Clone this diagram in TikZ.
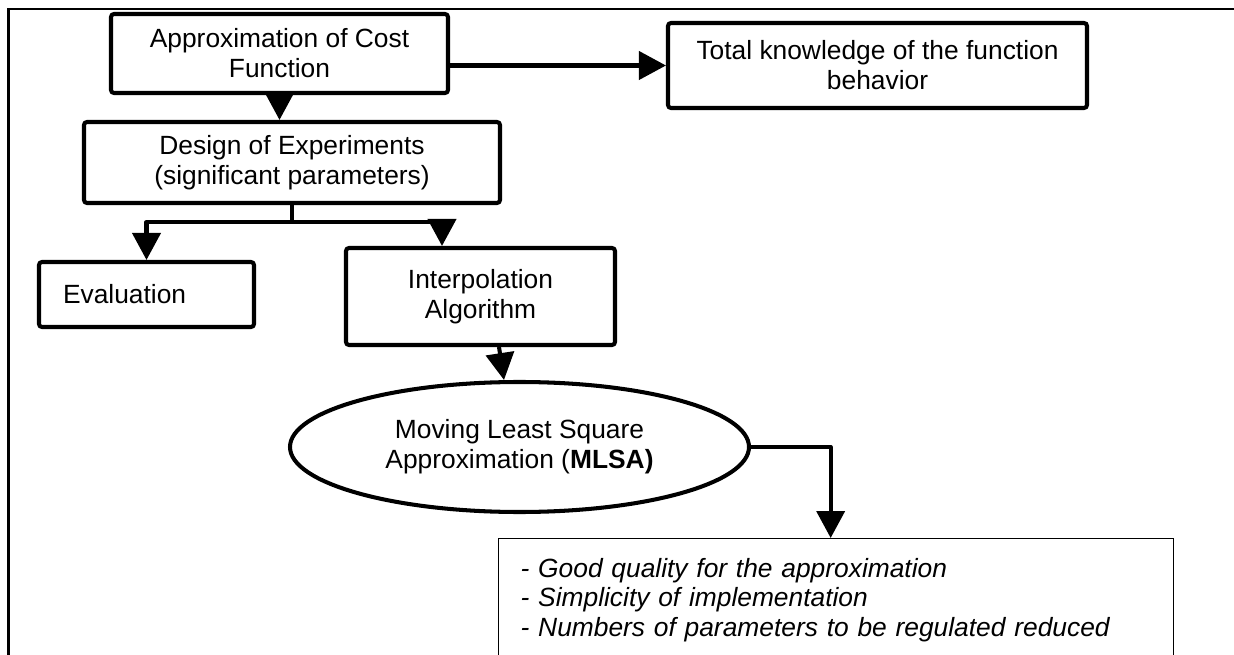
\documentclass[tikz,border=0pt]{standalone}
\usepackage{fontspec}
\setmainfont{Liberation Sans}
\usetikzlibrary{positioning}
\usetikzlibrary{calc}
\usetikzlibrary{shapes.geometric}
\usetikzlibrary{arrows.meta}
\tikzset{
    % Big solid heads, as in the original flow chart
    >={Triangle[length=5.4mm, width=5.6mm]},
%
    % Heavy outlined step of the chart
    flow box/.style={draw, line width=2.3pt, rounded corners=0.6mm,
        align=center, inner sep=0pt},
%
    % The same step, but round
    flow ellipse/.style={draw, line width=2.3pt, ellipse, align=center,
        inner sep=0pt},
%
    % Plain thin box for the closing notes
    note box/.style={draw, line width=0.75pt, align=left},
%
    % Heavy connector between two steps
    flow line/.style={->, line width=2.3pt, line join=round},
%
    % Border round the whole figure
    frame line/.style={line width=1.3pt}}

\begin{document}
\begin{tikzpicture}[x=0.2mm, y=-0.2mm]
\fontsize{15}{17}\selectfont

% Page of the figure, its frame cut by the page edge
\useasboundingbox (0,0) rectangle (1234,655);
\clip (0,0) rectangle (1234,655);
\draw [frame line] (8.5,680) |- (1260,9.3);

% Cost function and what it gives
\node [flow box, minimum width=67.4mm, minimum height=15.8mm]
    (approx) at (279.5,53.5) {Approximation of Cost\\Function};
\node [flow box, minimum width=83.8mm, minimum height=17mm]
    (knowledge) at (877.5,65.5) {Total knowledge of the function\\behavior};
\draw [flow line] (approx.east |- knowledge.west) -- (knowledge.west);

% Design of experiments, then its two branches
\node [flow box, minimum width=83.2mm, minimum height=16.2mm]
    (design) at (292,162.5) {Design of Experiments\\(significant parameters)};
\draw [flow line] (approx.south) -- (approx.south |- design.north);

\node [flow box, minimum width=43mm, minimum height=13mm,
    text width=33.4mm, align=left]
    (eval) at (146.5,294.5) {Evaluation};
\node [flow box, minimum width=53.8mm, minimum height=19.4mm]
    (interp) at (480.5,296.5) {Interpolation\\Algorithm};
\coordinate (fork) at ($(design.south)+(0,17)$);
\draw [flow line] (design.south) -- (fork) -| (eval.north);
\draw [flow line] (fork) -| ([xshift=-7.7mm]interp.north);

% Moving least squares and its merits
\node [flow ellipse, minimum width=91.8mm, minimum height=26mm]
    (mlsa) at (519.5,447) {Moving Least Square\\Approximation (\textbf{MLSA)}};
\draw [flow line] ([xshift=3.7mm]interp.south) -- ([xshift=-3.1mm]mlsa.north);

\node [note box, anchor=north west, text width=126.2mm, inner xsep=4.4mm,
    inner ysep=3.86mm, text depth=24mm, font=\itshape]
    (gains) at (498,538) {- Good quality for the approximation\\
        - Simplicity of implementation\\
        - Numbers of parameters to be regulated reduced};
\draw [flow line] (mlsa.east) -| ([xshift=-1.1mm]gains.north);

\end{tikzpicture}
\end{document}
